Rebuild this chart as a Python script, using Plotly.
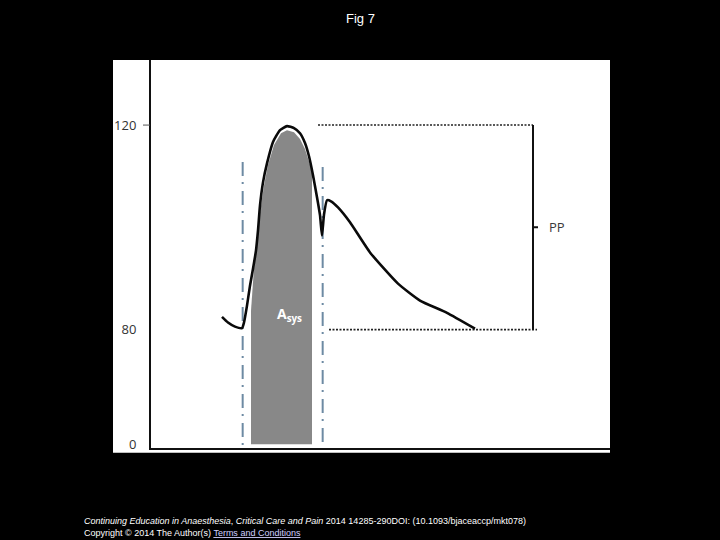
import plotly.graph_objects as go

# ---- data (time in ms, pressure in mmHg; schematic arterial waveform) ----
wave_t = [216, 234, 255, 276, 282, 291, 300, 309, 318, 324, 330, 339, 351, 369, 390, 411,
          432, 450, 465, 477, 489, 501, 510, 516, 522, 531, 543, 564, 600, 660, 744, 810, 891, 975]
wave_p = [82.5, 81.4, 80.6, 80.3, 81.4, 84.7, 88.6, 91.9, 95.5, 99.4, 104.3, 108.8, 112.5, 116.7, 119.0, 119.8,
          119.4, 118.4, 116.5, 113.9, 110.2, 105.9, 102.4, 98.4, 102.5, 105.3, 105.1, 103.9, 101.0, 95.1, 89.0, 85.7, 83.3, 80.2]

# systolic area (A_sys) outline
area_t = [303, 303, 312, 321, 330, 342, 354, 372, 393, 411, 432, 450, 465, 477, 486, 486]
area_p = [57.6, 83.7, 92.0, 97.5, 102.9, 108.2, 112.2, 116.1, 118.4, 119.0, 118.6, 117.3, 115.3, 112.9, 111.0, 57.6]

# start / end of systole markers
marker_t = [278, 518]
marker_top = [112.8, 111.8]

systolic = 120
diastolic = 80
pp_top_t = [504, 1149]
pp_bot_t = [537, 1161]
bracket_t = 1149

tick_vals = [57.6, 80, 120]
tick_text = ["0", "80", "120"]

x_range = [3, 1380]
y_range = [56.9, 132.7]

W, H = 720, 540
FIG_H = 546
fig = go.Figure()

# systolic area fill
fig.add_trace(go.Scatter(x=area_t, y=area_p, mode="lines", fill="toself",
                         fillcolor="#888888", line=dict(width=0), hoverinfo="skip",
                         showlegend=False))

# dash-dot markers
for t, top in zip(marker_t, marker_top):
    fig.add_trace(go.Scatter(x=[t, t], y=[top, y_range[0]], mode="lines",
                             line=dict(color="#6d8aa3", width=2, dash="14px,6px,2px,7px"),
                             hoverinfo="skip", showlegend=False))

# PP dotted lines
fig.add_trace(go.Scatter(x=pp_top_t, y=[systolic, systolic], mode="lines",
                         line=dict(color="#222222", width=1.6, dash="2px,1.5px"),
                         hoverinfo="skip", showlegend=False))
fig.add_trace(go.Scatter(x=pp_bot_t, y=[diastolic, diastolic], mode="lines",
                         line=dict(color="#222222", width=1.6, dash="2px,1.5px"),
                         hoverinfo="skip", showlegend=False))
# bracket
fig.add_trace(go.Scatter(x=[bracket_t, bracket_t], y=[systolic, diastolic], mode="lines",
                         line=dict(color="#111111", width=2),
                         hoverinfo="skip", showlegend=False))
fig.add_trace(go.Scatter(x=[bracket_t, bracket_t + 15], y=[(systolic + diastolic) / 2] * 2, mode="lines",
                         line=dict(color="#111111", width=2),
                         hoverinfo="skip", showlegend=False))

# waveform
fig.add_trace(go.Scatter(x=wave_t, y=wave_p, mode="lines",
                         line=dict(color="#0a0a0a", width=2.6, shape="spline", smoothing=0.5),
                         hoverinfo="skip", showlegend=False))

fig.add_annotation(x=bracket_t + 72, y=(systolic + diastolic) / 2, text="PP", showarrow=False,
                   yanchor="middle", font=dict(family="Open Sans", size=13, color="#3a3a3a"))
fig.add_annotation(x=417, y=83.0, text="<b>A</b><sub><b>sys</b></sub>", showarrow=False,
                   yanchor="middle", font=dict(family="Open Sans", size=14, color="#ffffff"))

# white panel
fig.add_shape(type="rect", xref="paper", yref="paper", x0=113 / W, x1=610 / W,
              y0=1 - 452 / H, y1=1 - 60 / H, fillcolor="white", line=dict(width=0), layer="below")
# tick dash at 120
fig.add_shape(type="line", xref="paper", yref="y", x0=143 / W, x1=150 / W, y0=120, y1=120,
              line=dict(color="#555555", width=1))

fig.update_layout(
    width=W, height=FIG_H, margin=dict(l=0, r=0, t=0, b=0),
    paper_bgcolor="black", plot_bgcolor="white",
    xaxis=dict(domain=[151 / W, 610 / W], range=x_range, showgrid=False, zeroline=False,
               showticklabels=False, ticks="", showline=True, linecolor="#111111", linewidth=2),
    yaxis=dict(domain=[1 - 447 / H, 1 - 60 / H], range=y_range, showgrid=False, zeroline=False,
               tickvals=tick_vals, ticktext=tick_text, ticks="", ticklabelstandoff=10,
               tickfont=dict(family="Open Sans", size=13, color="#333333"),
               showline=True, linecolor="#111111", linewidth=2),
    showlegend=False,
)

fig.add_annotation(xref="paper", yref="paper", x=0.5, y=1 - 18 / H, yanchor="middle", text="Fig 7",
                   showarrow=False, font=dict(family="Liberation Sans", size=13, color="white"))
fig.add_annotation(xref="paper", yref="paper", x=82 / W, y=1 - 520 / H, xanchor="left", yanchor="middle",
                   text="<i>Continuing Education in Anaesthesia</i>, <i>Critical Care and Pain</i> 2014 14285-290DOI: (10.1093/bjaceaccp/mkt078)",
                   showarrow=False, font=dict(family="Liberation Sans", size=9, color="white"))
fig.add_annotation(xref="paper", yref="paper", x=82 / W, y=1 - 532 / H, xanchor="left", yanchor="middle",
                   text="Copyright © 2014 The Author(s) <span style='color:#d0d0ff'><u>Terms and Conditions</u></span>",
                   showarrow=False, font=dict(family="Liberation Sans", size=9, color="white"))

page_fix = (
    "document.documentElement.style.margin='0';"
    "document.body.style.margin='0';"
    "document.body.style.background='black';"
)
fig.write_html("out.html", config={"displayModeBar": False}, post_script=page_fix)
